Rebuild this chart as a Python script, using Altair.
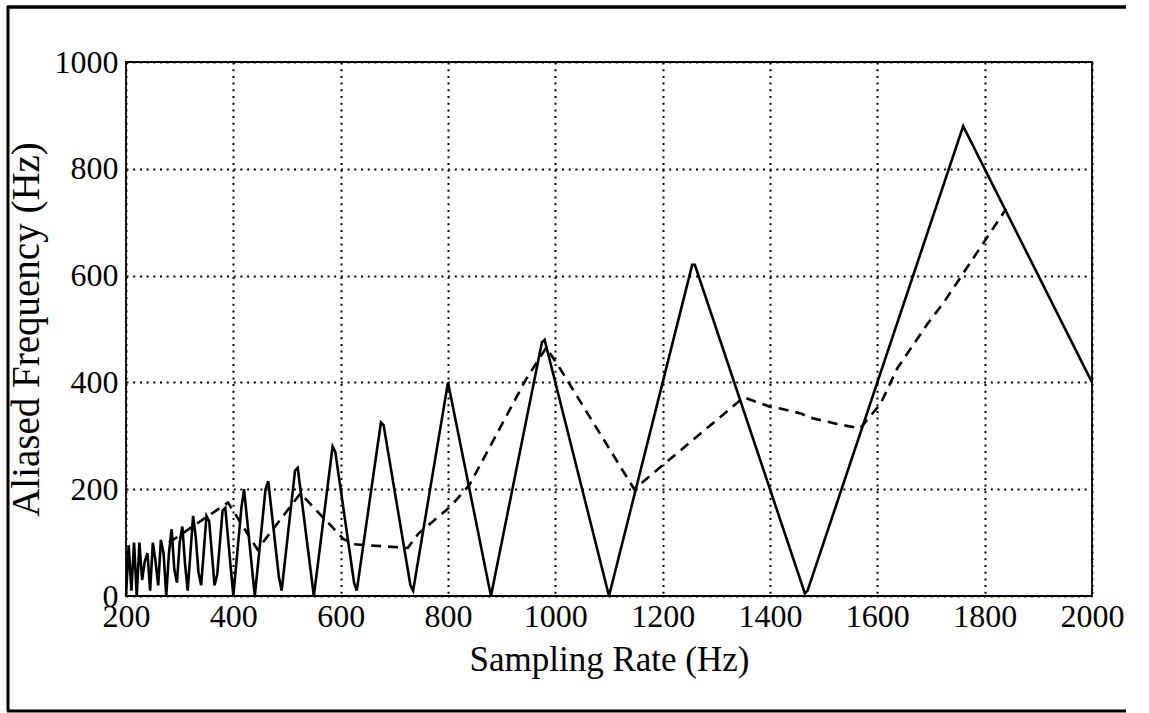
import altair as alt
import pandas as pd

# Solid curve: polyline vertices (Hz, aliased Hz)
solid_hz = [200, 205, 210, 215, 220, 225, 230, 235, 240, 245, 250, 255, 260, 265, 270,
            275, 280, 285, 290, 295, 300, 305, 310, 315, 320, 325, 330, 335, 340, 345,
            350, 355, 360, 365, 370, 375, 380, 385, 390, 395, 400,
            415, 420, 440, 460, 465, 485, 490, 515, 520, 550, 585, 590, 625, 630,
            675, 680, 730, 735, 800, 880, 975, 980, 1100, 1255, 1260, 1465, 1470,
            1760, 2000]
solid_val = [0, 95, 10, 100, 0, 100, 30, 65, 80, 10, 100, 65, 20, 105, 80,
             0, 80, 125, 50, 25, 100, 130, 60, 10, 80, 150, 110, 45, 20, 85,
             150, 140, 80, 20, 40, 100, 160, 165, 110, 55, 0,
             165, 200, 0, 200, 215, 35, 10, 235, 240, 0, 280, 270, 25, 10,
             325, 320, 20, 10, 400, 0, 475, 480, 0, 620, 620, 5, 10,
             880, 400]

# Dashed curve vertices
dash_hz = [280, 390, 445, 525, 605, 625, 680, 725, 745, 805, 840, 945, 983,
           1005, 1147, 1351, 1401, 1419, 1457, 1475, 1525, 1568, 1606, 1637,
           1693, 1724, 1840]
dash_val = [100, 175, 87, 192, 107, 97, 93, 90, 117, 168, 208, 405, 465,
            432, 200, 372, 354, 351, 342, 334, 322, 314, 360, 426,
            509, 550, 725]

x_ticks = [200, 400, 600, 800, 1000, 1200, 1400, 1600, 1800, 2000]
y_ticks = [0, 200, 400, 600, 800, 1000]

solid_df = pd.DataFrame({"fs": solid_hz, "alias": solid_val, "order": range(len(solid_hz))})
dash_df = pd.DataFrame({"fs": dash_hz, "alias": dash_val, "order": range(len(dash_hz))})

FONT = "Liberation Serif"

x_enc = alt.X("fs:Q",
              scale=alt.Scale(domain=[200, 2000], nice=False, zero=False),
              axis=alt.Axis(values=x_ticks, title="Sampling Rate (Hz)", format="d",
                            labelPadding=5, titlePadding=10, titleFontSize=35))
y_enc = alt.Y("alias:Q",
              scale=alt.Scale(domain=[0, 1000], nice=False),
              axis=alt.Axis(values=y_ticks, title="Aliased Frequency (Hz)", format="d",
                            labelPadding=8, titlePadding=8, titleFontSize=39))

solid = alt.Chart(solid_df).mark_line(color="black", strokeWidth=2.6).encode(
    x=x_enc, y=y_enc, order="order:Q")

dashed = alt.Chart(dash_df).mark_line(color="black", strokeWidth=2.6,
                                      strokeDash=[10, 7]).encode(
    x="fs:Q", y="alias:Q", order="order:Q")

one = pd.DataFrame({"a": [0]})
border_left = alt.Chart(one).mark_rule(color="black", strokeWidth=3).encode(
    x=alt.value(-118), y=alt.value(-56), y2=alt.value(649))
border_top = alt.Chart(one).mark_rule(color="black", strokeWidth=3.5).encode(
    x=alt.value(-119), x2=alt.value(1000), y=alt.value(-55))
border_bottom = alt.Chart(one).mark_rule(color="black", strokeWidth=3).encode(
    x=alt.value(-119), x2=alt.value(1000), y=alt.value(649))

chart = alt.layer(solid, dashed, border_left, border_top, border_bottom).properties(
    width=966, height=534,
    autosize=alt.AutoSizeParams(type="none"),
    padding={"left": 126, "top": 62, "right": 57, "bottom": 117},
    background="white",
).configure_view(
    stroke="black", strokeWidth=1.8
).configure_axis(
    labelFont=FONT, titleFont=FONT, labelFontSize=32,
    labelColor="black", titleColor="black", titleFontWeight="normal",
    grid=True, gridColor="black", gridDash=[2, 4.7], gridWidth=2, gridOpacity=1,
    ticks=False, domain=False, labelFlush=False
)

chart.save("out.html", embed_options={"renderer": "svg", "actions": False})
